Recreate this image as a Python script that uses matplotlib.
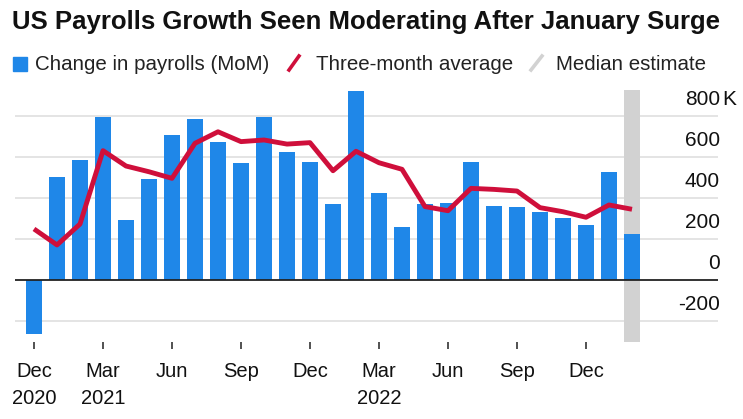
import numpy as np
import matplotlib
matplotlib.use("Agg")
import matplotlib.pyplot as plt
import matplotlib.transforms as mtransforms
from matplotlib.lines import Line2D

# monthly change in nonfarm payrolls, thousands (Dec 2020 .. Feb 2023, last = median estimate)
payrolls = [-265, 501, 584, 797, 293, 493, 709, 784, 673, 569, 797, 624, 576, 369, 922,
            423, 259, 369, 376, 577, 363, 356, 333, 301, 267, 528, 224]
# three-month average
avg3 = [249, 171, 273, 631, 556, 528, 496, 667, 723, 675, 683, 663, 670, 533, 628,
        572, 540, 358, 338, 447, 442, 434, 353, 333, 306, 366, 345]
tick_idx = [0, 3, 6, 9, 12, 15, 18, 21, 24]
tick_months = ["Dec", "Mar", "Jun", "Sep", "Dec", "Mar", "Jun", "Sep", "Dec"]
tick_years = ["2020", "2021", "", "", "", "2022", "", "", ""]
y_ticks = [-200, 0, 200, 400, 600, 800]
y_labels = ["-200", "0", "200", "400", "600", "800"]
estimate_idx = 26

blue = "#1f87e8"
red = "#cf0f3b"
grey = "#d2d2d2"
txt = "#111111"

plt.rcParams['font.family'] = ['Liberation Sans', 'DejaVu Sans']

W, H = 743, 419
fig = plt.figure(figsize=(W / 100, H / 100), dpi=100)

def fx(px):
    return px / W

def fy(py):
    return 1 - py / H

# axes box: x from 15 to 718 px, y from 90 to 342 px
ax = fig.add_axes([fx(15), fy(342), fx(718) - fx(15), fy(90) - fy(342)])
x = np.arange(len(payrolls))
ax.set_xlim((15 - 34) / 23, (718 - 34) / 23)
ax.set_ylim((280 - 342) * 200 / 41, (280 - 90) * 200 / 41)

ax.axvspan(estimate_idx - 0.33, estimate_idx + 0.33, color=grey, zorder=1, lw=0)
for yt in y_ticks:
    if yt == 0:
        ax.axhline(0, color="#222222", lw=1.3, zorder=4)
    else:
        ax.axhline(yt, color="#dddddd", lw=1.1, zorder=0)
ax.bar(x, payrolls, width=0.66, color=blue, zorder=2)
ax.plot(x, avg3, color=red, lw=3.5, solid_joinstyle='round', solid_capstyle='butt', zorder=5)

for s in ax.spines.values():
    s.set_visible(False)
ax.set_yticks([])
ax.set_xticks(tick_idx)
ax.set_xticklabels([])
ax.tick_params(axis='x', length=5, width=1.1, color="#222222")

# month / year labels under the ticks
xtrans = mtransforms.blended_transform_factory(ax.transData, fig.transFigure)
for i, m, yr in zip(tick_idx, tick_months, tick_years):
    ax.text(i, fy(377), m, transform=xtrans, ha='center', va='baseline', fontsize=14.5, color=txt)
    if yr:
        ax.text(i, fy(404), yr, transform=xtrans, ha='center', va='baseline', fontsize=14.5, color=txt)

# right-hand value labels sit just above their gridlines
trans = mtransforms.blended_transform_factory(fig.transFigure, ax.transData)
trans = mtransforms.offset_copy(trans, fig=fig, x=0, y=11, units='dots')
for yt, lab in zip(y_ticks, y_labels):
    ax.text(fx(720), yt, lab, transform=trans, ha='right', va='baseline', fontsize=15, color=txt)
ax.text(fx(722), 800, "K", transform=trans, ha='left', va='baseline', fontsize=15, color=txt)

# title
fig.text(fx(12), fy(29), "US Payrolls Growth Seen Moderating After January Surge",
         fontsize=18.5, fontweight='bold', ha='left', va='baseline', color=txt)

# legend row
fig.patches.append(plt.Rectangle((fx(13), fy(71)), fx(14), fy(57) - fy(71), transform=fig.transFigure,
                                 color=blue, figure=fig))
fig.text(fx(35), fy(70), "Change in payrolls (MoM)", fontsize=14.8, ha='left', va='baseline', color="#222222")
fig.lines.append(Line2D([fx(289), fx(299)], [fy(70), fy(56)], transform=fig.transFigure,
                        color=red, lw=2.6, figure=fig))
fig.text(fx(316), fy(70), "Three-month average", fontsize=14.8, ha='left', va='baseline', color="#222222")
fig.lines.append(Line2D([fx(531), fx(542)], [fy(70), fy(56)], transform=fig.transFigure,
                        color=grey, lw=2.6, figure=fig))
fig.text(fx(556), fy(70), "Median estimate", fontsize=14.8, ha='left', va='baseline', color="#222222")

fig.savefig("out.png", dpi=100)
